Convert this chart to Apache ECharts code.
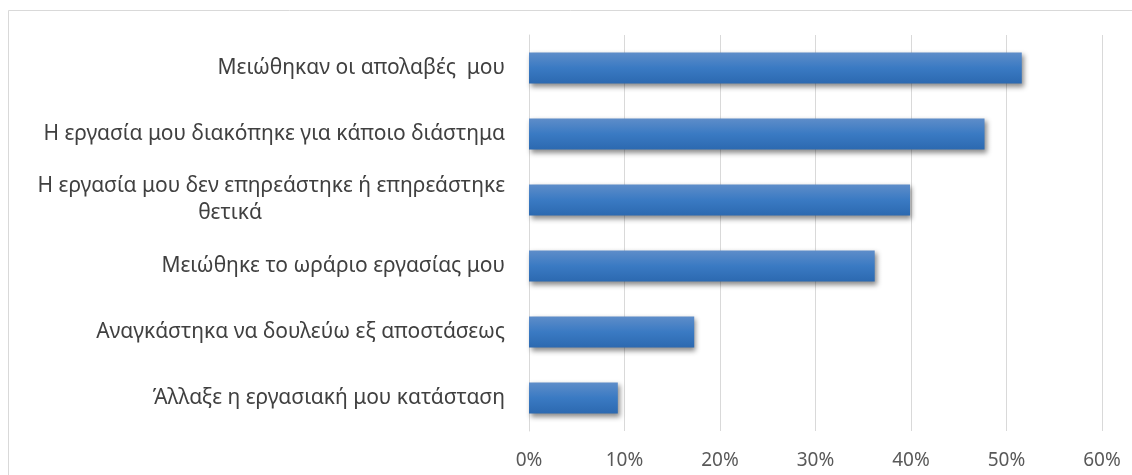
<!DOCTYPE html>
<html><head><meta charset="utf-8">
<script src="https://cdn.jsdelivr.net/npm/echarts@6/dist/echarts.min.js"></script>
<style>html,body{margin:0;padding:0;background:#fff}#c{width:1132px;height:475px}</style>
</head><body><div id="c"></div>
<script>
var categories = [
  'Μειώθηκαν οι απολαβές  μου',
  'Η εργασία μου διακόπηκε για κάποιο διάστημα',
  'Η εργασία μου δεν επηρεάστηκε ή επηρεάστηκε\nθετικά',
  'Μειώθηκε το ωράριο εργασίας μου',
  'Αναγκάστηκα να δουλεύω εξ αποστάσεως',
  'Άλλαξε η εργασιακή μου κατάσταση'
];
var values = [0.516, 0.477, 0.399, 0.362, 0.173, 0.093];
var tickMin = 0, tickMax = 0.6, tickStep = 0.1;

var FONT = 'Noto Sans';
var LSIZE = 21;

var chart = echarts.init(document.getElementById('c'));
chart.setOption({
  animation: false,
  backgroundColor: '#fff',
  graphic: [{
    type: 'rect', shape: {x: 8.5, y: 10.5, width: 1140, height: 480},
    style: {fill: 'none', stroke: '#d9d9d9', lineWidth: 1}, silent: true
  }],
  grid: {left: 529, right: 30, top: 35, bottom: 44, containLabel: false, outerBoundsMode: 'none'},
  xAxis: {
    type: 'value', min: tickMin, max: tickMax, interval: tickStep,
    axisLine: {show: false}, axisTick: {show: false},
    splitLine: {lineStyle: {color: '#d9d9d9', width: 1}},
    axisLabel: {
      formatter: function (v) { return Math.round(v * 100) + '%'; },
      color: '#595959', fontFamily: FONT, fontSize: 19, margin: 20
    }
  },
  yAxis: {
    type: 'category', data: categories, inverse: true,
    axisLine: {show: true, lineStyle: {color: '#d9d9d9'}}, axisTick: {show: false},
    axisLabel: {
      color: '#404040', fontFamily: FONT, fontSize: LSIZE, margin: 24, align: 'right',
      lineHeight: 27,
      formatter: function (v) {
        if (v.indexOf('\n') >= 0) {
          var parts = v.split('\n');
          return '{a|' + parts[0] + '}\n{b|' + parts[1] + '}';
        }
        return v;
      },
      rich: {
        a: {fontFamily: FONT, fontSize: LSIZE, color: '#404040', lineHeight: 27},
        b: {padding: [0, 243, 0, 0], fontFamily: FONT, fontSize: LSIZE, color: '#404040', lineHeight: 27}
      }
    }
  },
  series: [{
    type: 'bar', data: values, barCategoryGap: '53%',
    itemStyle: {
      color: new echarts.graphic.LinearGradient(0, 0, 0, 1, [
        {offset: 0, color: '#5e8dc9'},
        {offset: 0.5, color: '#3a7ac3'},
        {offset: 1, color: '#2c69b0'}
      ]),
      shadowColor: 'rgba(0,0,0,0.45)', shadowBlur: 5, shadowOffsetX: 2, shadowOffsetY: 3
    }
  }]
});
</script></body></html>
